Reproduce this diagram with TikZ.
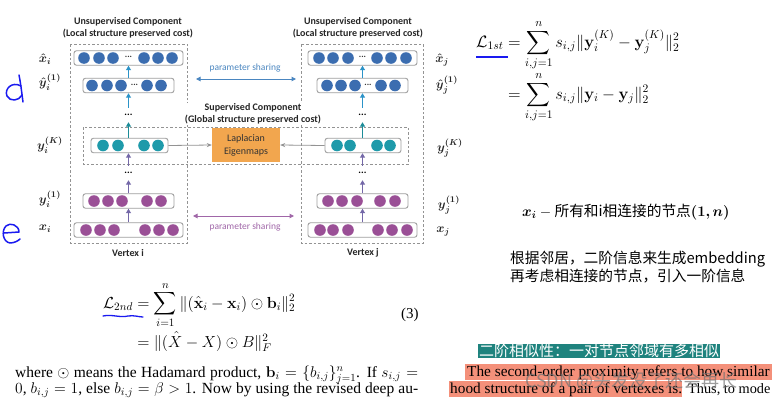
\RequirePackage{fix-cm}
\documentclass[tikz,border=0pt]{standalone}
\usepackage[no-math]{fontspec}
\usepackage{amsmath,amssymb,bm}
\setmainfont{Liberation Serif}
\newfontfamily\diagf{Carlito}
\newfontfamily\cjkf{Noto Sans CJK SC}
\usetikzlibrary{arrows.meta}
\definecolor{cblue}{HTML}{3B6DB0}
\definecolor{cteal}{HTML}{1E9AAA}
\definecolor{cpurp}{HTML}{9A4F96}
\definecolor{arrblue}{HTML}{2B93C8}
\definecolor{arrteal}{HTML}{1C8C98}
\definecolor{arrpurp}{HTML}{7468A8}
\definecolor{psblue}{HTML}{4A86C0}
\definecolor{pspurp}{HTML}{A066A8}
\definecolor{lapor}{HTML}{F2A64E}
\definecolor{hlteal}{HTML}{1F837E}
\definecolor{hlsalm}{HTML}{F4907A}
\definecolor{penblue}{HTML}{1A1AF0}
\newcommand\circrow[3]{\foreach \cx in {#2}{\fill[#1] (\cx,#3) circle[radius=5.8pt];}}
\begin{document}
\begin{tikzpicture}[x=1pt,y=-1pt,
  rowbox/.style={draw=gray!75, rounded corners=2.5pt, fill=white, line width=0.9pt, inner sep=0pt, minimum height=14.5pt},
  dashbox/.style={draw=gray!85, line width=0.7pt, dash pattern=on 2.5pt off 2pt},
  uparrow/.style={line width=1.6pt, -{Triangle[length=4.5pt,width=5pt]}},
  grayarr/.style={draw=gray!85, line width=0.8pt, -{Stealth[length=5pt,width=4pt]}},
  psarr/.style={line width=1pt, {Triangle[length=4.5pt,width=4.5pt]}-{Triangle[length=4.5pt,width=4.5pt]}},
  ptdots/.style={inner sep=0pt, minimum height=14pt, minimum width=12pt, font=\diagf\bfseries\fontsize{10}{10}\selectfont},
  rowdots/.style={inner sep=0pt, font=\diagf\bfseries\fontsize{9}{9}\selectfont, text=black!80},
  ttl/.style={font=\diagf\bfseries\fontsize{10}{12}\selectfont, align=center, inner sep=0pt, text=black!85},
  lbl/.style={font=\fontsize{12.5}{12.5}\selectfont\boldmath, inner sep=0pt, text=black!85},
  pslbl/.style={font=\diagf\fontsize{9.5}{10}\selectfont, inner sep=0pt},
  eqn/.style={anchor=base west, inner sep=0pt, font=\fontsize{16}{19}\selectfont},
  ptext/.style={anchor=base west, inner sep=0pt, font=\fontsize{15.5}{16}\selectfont},
  hltext/.style={anchor=base west, inner sep=0pt, font=\fontsize{15.3}{17}\selectfont},
  cjkt/.style={inner sep=0pt, font=\cjkf\fontsize{14.7}{18}\selectfont},
  pen/.style={draw=penblue, line width=1.5pt, line cap=round, line join=round}
]
\useasboundingbox[fill=white] (0,0) rectangle (772,402);

% ---------- dashed component boxes ----------
\draw[dashbox] (70,44) rectangle (187,243);
\draw[dashbox] (301,44) rectangle (423,243);
\draw[dashbox] (83,127) rectangle (408,164);

% ---------- titles ----------
\node[ttl] (tU1) at (128,28) {Unsupervised Component\\(Local structure preserved cost)};
\node[ttl] (tU2) at (358,28) {Unsupervised Component\\(Local structure preserved cost)};
\node[ttl, fill=white, inner sep=1pt] (tS) at (253,114) {Supervised Component\\(Global structure preserved cost)};

% ---------- left column ----------
\node[rowbox, minimum width=109pt] (xhL) at (128.5,58) {};
\circrow{cblue}{84,99,113,144,158,172}{58}
\node[rowdots] (xhLd) at (128.5,57) {...};
\node[rowbox, minimum width=91pt] (yhL) at (128.5,85.5) {};
\circrow{cblue}{92,107,121,147,161}{85.5}
\node[rowdots] (yhLd) at (134.5,84.5) {...};
\node[ptdots] (dLt) at (128.5,115) {...};
\node[rowbox, minimum width=77pt] (yKL) at (129.5,145.5) {};
\circrow{cteal}{103,118,144,158}{145.5}
\node[ptdots] (dLb) at (128.5,173) {...};
\node[rowbox, minimum width=91pt] (y1L) at (128.5,201) {};
\circrow{cpurp}{94,108,122,147,161}{201}
\node[rowbox, minimum width=109pt] (xL) at (128.5,230) {};
\circrow{cpurp}{86,100,114,145,159,173}{230}

\draw[uparrow, arrblue] (yhL.north) -- (xhL.south);
\draw[uparrow, arrblue] (dLt.north) -- (yhL.south);
\draw[uparrow, arrteal] (dLt.south |- yKL.north) -- (dLt.south);
\draw[uparrow, arrpurp] (dLb.north) -- (dLb.north |- yKL.south);
\draw[uparrow, arrpurp] (y1L.north) -- (dLb.south);
\draw[uparrow, arrpurp] (xL.north) -- (y1L.south);

% ---------- right column ----------
\node[rowbox, minimum width=109pt] (xhR) at (362.5,58) {};
\circrow{cblue}{319,333,348,377,391,406}{58}
\node[rowdots] (xhRd) at (362.5,57) {...};
\node[rowbox, minimum width=91pt] (yhR) at (362.5,85.5) {};
\circrow{cblue}{327,341,355,381,395}{85.5}
\node[rowdots] (yhRd) at (368,84.5) {...};
\node[ptdots] (dRt) at (362.5,115) {...};
\node[rowbox, minimum width=76pt] (yKR) at (363,145.5) {};
\circrow{cteal}{337,350,377,390}{145.5}
\node[ptdots] (dRb) at (362.5,173) {...};
\node[rowbox, minimum width=91pt] (y1R) at (362.5,201) {};
\circrow{cpurp}{328,342,357,380,395}{201}
\node[rowbox, minimum width=109pt] (xR) at (362.5,230) {};
\circrow{cpurp}{320,333,348,378,392,407}{230}

\draw[uparrow, arrblue] (yhR.north) -- (xhR.south);
\draw[uparrow, arrblue] (dRt.north) -- (yhR.south);
\draw[uparrow, arrteal] (dRt.south |- yKR.north) -- (dRt.south);
\draw[uparrow, arrpurp] (dRb.north) -- (dRb.north |- yKR.south);
\draw[uparrow, arrpurp] (y1R.north) -- (dRb.south);
\draw[uparrow, arrpurp] (xR.north) -- (y1R.south);

% ---------- Laplacian ----------
\node[fill=lapor, minimum width=68pt, minimum height=34pt, inner sep=0pt, align=center,
      font=\diagf\fontsize{10}{13}\selectfont, text=black!80] (lap) at (246,145) {Laplacian\\Eigenmaps};
\draw[grayarr] (yKL.east) -- (lap.west);
\draw[grayarr] (yKR.west) -- (lap.east);

% ---------- parameter sharing ----------
\coordinate (psTa) at (196,79);
\coordinate (psTb) at (296,79);
\coordinate (psBa) at (193,216);
\coordinate (psBb) at (294,216);
\draw[psarr, psblue] (psTa) -- (psTb);
\draw[psarr, pspurp] (psBa) -- (psBb);
\node[pslbl, text=psblue] (psT) at (245,68) {parameter sharing};
\node[pslbl, text=pspurp] (psB) at (245,227) {parameter sharing};

% ---------- vertex labels ----------
\node[ttl] (vi) at (128,253) {Vertex i};
\node[ttl] (vj) at (363,253) {Vertex j};

% ---------- math labels ----------
\node[lbl] (lxhi) at (45,59) {$\hat{x}_i$};
\node[lbl] (lyhi) at (50,82) {$\hat{y}_i^{(1)}$};
\node[lbl] (lyKi) at (50,145) {$y_i^{(K)}$};
\node[lbl] (ly1i) at (50,199) {$y_i^{(1)}$};
\node[lbl] (lxi) at (45,229) {$x_i$};
\node[lbl] (lxhj) at (442,60) {$\hat{x}_j$};
\node[lbl] (lyhj) at (447,85) {$\hat{y}_j^{(1)}$};
\node[lbl] (lyKj) at (450,148) {$y_j^{(K)}$};
\node[lbl] (ly1j) at (449,205) {$y_j^{(1)}$};
\node[lbl] (lxj) at (443,232) {$x_j$};

% ---------- handwritten marks ----------
\draw[pen] (21,86) .. controls (12,81) and (4,89) .. (7,96) .. controls (10,102) and (19,101) .. (22,95);
\draw[pen] (19,75) .. controls (21,85) and (22,95) .. (23,102);
\draw[pen] (4,233) -- (19,232) .. controls (19,225) and (10,222) .. (6,226) .. controls (1,231) and (3,242) .. (10,243) .. controls (14,243) and (18,241) .. (20,239);

% ---------- right equations ----------
\node[eqn, font=\fontsize{16.5}{19}\selectfont] (eq1a) at (476,47) {$\displaystyle \mathcal{L}_{1st} = \sum_{i,j=1}^{n} s_{i,j}\|\mathbf{y}_i^{(K)}-\mathbf{y}_j^{(K)}\|_2^2$};
\node[eqn, font=\fontsize{16.5}{19}\selectfont] (eq1b) at (eq1a.base west) [yshift=-52pt] {$\displaystyle \phantom{\mathcal{L}_{1st}} = \sum_{i,j=1}^{n} s_{i,j}\|\mathbf{y}_i-\mathbf{y}_j\|_2^2$};
\draw[penblue, line width=1.5pt] (476,57) -- (508,57);

% ---------- Chinese notes ----------
\node[cjkt, anchor=west] (n1) at (522,212) {$\bm{x_i}$ $-$ 所有和i相连接的节点$\bm{(1,n)}$};
\node[cjkt, anchor=north west, align=left] (n2) at (510,251) {根据邻居，二阶信息来生成embedding\\再考虑相连接的节点，引入一阶信息};

% ---------- left equation ----------
\node[eqn] (eq2a) at (103,308) {$\displaystyle \mathcal{L}_{2nd} = \sum_{i=1}^{n}\|(\hat{\mathbf{x}}_i-\mathbf{x}_i)\odot\mathbf{b}_i\|_2^2$};
\node[eqn] (eq2b) at (eq2a.base west) [yshift=-39pt] {$\phantom{\mathcal{L}_{2nd}} = \|(\hat{X}-X)\odot B\|_F^2$};
\node[ptext, font=\fontsize{15}{18}\selectfont] (eqno) at (401,318) {(3)};
\draw[pen, line width=1.3pt] (103,316) .. controls (112,314) and (120,318) .. (128,316) .. controls (134,315) and (139,317) .. (143,317);

\node[ptext] (t1) at (15,377) {\makebox[403pt][s]{where $\odot$ means the Hadamard product, $\mathbf{b}_i=\{b_{i,j}\}_{j=1}^{n}$. If $s_{i,j}=$}};
\node[ptext] (t2) at (15,393) {\makebox[403pt][s]{$0$, $b_{i,j}=1$, else $b_{i,j}=\beta>1$. Now by using the revised deep au-}};

% ---------- highlighted paper text ----------
\node[cjkt, font=\cjkf\fontsize{15}{18}\selectfont, fill=hlteal, text=white, anchor=west, inner xsep=1pt, inner ysep=0.5pt] (hl1) at (478,351) {二阶相似性：一对节点邻域有多相似};
\fill[hlsalm] (465,364) rectangle (772,380);
\fill[hlsalm] (449,381) rectangle (682,397);
\node[hltext] (s1) at (467,376) {The second-order proximity refers to how similar};
\node[hltext] (s2) at (450,393) {hood structure of a pair of vertexes is.};
\node[hltext, font=\fontsize{14.3}{17}\selectfont] (s3) at (688,393) {Thus, to mode};
\node[text=black!55, opacity=0.7, anchor=west, inner sep=0pt, font=\cjkf\fontsize{18}{18}\selectfont] (wm) at (525,381) {CSDN @头发没了还会再长};
\end{tikzpicture}
\end{document}
